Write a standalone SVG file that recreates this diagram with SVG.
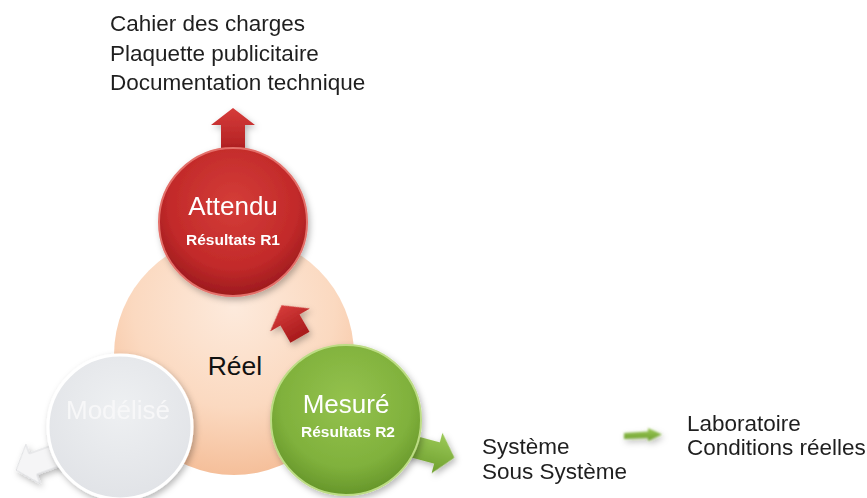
<svg xmlns="http://www.w3.org/2000/svg" width="867" height="498" viewBox="0 0 867 498">
  <style>
    .lbl { font-family: "Liberation Sans", Arial, sans-serif; font-size: 22.5px; fill: #1f1f1f; }
    .title { font-family: "Liberation Sans", Arial, sans-serif; font-size: 26px; fill: #ffffff; text-anchor: middle; }
    .sub { font-family: "Liberation Sans", Arial, sans-serif; font-size: 15.5px; font-weight: bold; fill: #ffffff; text-anchor: middle; }
    .center { font-family: "Liberation Sans", Arial, sans-serif; font-size: 26.5px; fill: #111111; text-anchor: middle; }
  </style>
  <defs>
    <radialGradient id="gPeach" cx="50%" cy="30%" r="70%">
      <stop offset="0" stop-color="#fdeadc"/>
      <stop offset="0.6" stop-color="#fbd9c0"/>
      <stop offset="1" stop-color="#f5bf9a"/>
    </radialGradient>
    <radialGradient id="gRed" cx="50%" cy="38%" r="62%">
      <stop offset="0" stop-color="#d43d38"/>
      <stop offset="0.7" stop-color="#c22a2a"/>
      <stop offset="1" stop-color="#9c1a1d"/>
    </radialGradient>
    <radialGradient id="gGreen" cx="50%" cy="38%" r="62%">
      <stop offset="0" stop-color="#94c24e"/>
      <stop offset="0.7" stop-color="#80b13c"/>
      <stop offset="1" stop-color="#66962a"/>
    </radialGradient>
    <radialGradient id="gGray" cx="50%" cy="38%" r="62%">
      <stop offset="0" stop-color="#eef0f2"/>
      <stop offset="1" stop-color="#e1e3e7"/>
    </radialGradient>
    <linearGradient id="gRedArrow" x1="0" y1="0" x2="0" y2="1">
      <stop offset="0" stop-color="#d63c3a"/>
      <stop offset="1" stop-color="#a81a1c"/>
    </linearGradient>
    <linearGradient id="gGreenArrow" x1="0" y1="0" x2="0" y2="1">
      <stop offset="0" stop-color="#9cca58"/>
      <stop offset="1" stop-color="#6e9f2e"/>
    </linearGradient>
    <filter id="shadow" x="-20%" y="-20%" width="140%" height="140%">
      <feDropShadow dx="2" dy="3" stdDeviation="3" flood-color="#000000" flood-opacity="0.28"/>
    </filter>
    <filter id="soft" x="-20%" y="-40%" width="140%" height="180%">
      <feGaussianBlur stdDeviation="0.9"/>
    </filter>
    <!-- block arrow pointing right, base of the head at the origin -->
    <path id="arrowRight" d="M18,0 L0,-21 L0,-11 L-34,-11 L-34,11 L0,11 L0,21 Z"/>
  </defs>

  <!-- central circle -->
  <g id="node-reel">
    <circle cx="234" cy="355" r="120" fill="url(#gPeach)"/>
    <text class="center" x="235" y="375">Réel</text>
  </g>

  <!-- connectors -->
  <g id="connectors" filter="url(#shadow)">
    <path d="M233,108 L255,125 L245,125 L245,160 L221,160 L221,125 L211,125 Z" fill="url(#gRedArrow)"/>
    <path transform="translate(290,320) rotate(-30)" d="M0,-17 L23,0 L11,0 L11,20 L-11,20 L-11,0 L-23,0 Z" fill="url(#gRedArrow)"/>
    <use href="#arrowRight" transform="translate(437,453) rotate(15)" fill="url(#gGreenArrow)"/>
    <use href="#arrowRight" transform="translate(33,464) rotate(160)" fill="#f5f5f6" stroke="#dcdde0" stroke-width="1"/>
    <path d="M624,433 L648,431.5 L648,428 L662,434.5 L648,441 L648,438 L624,439 Z" fill="url(#gGreenArrow)" filter="url(#soft)"/>
  </g>

  <g id="node-attendu" filter="url(#shadow)">
    <circle cx="233" cy="222" r="74" fill="url(#gRed)" stroke="#e4706a" stroke-width="2"/>
    <text class="title" x="233" y="215">Attendu</text>
    <text class="sub" x="233" y="245">Résultats R1</text>
  </g>

  <g id="node-modelise" filter="url(#shadow)">
    <circle cx="120" cy="427" r="72" fill="url(#gGray)" stroke="#ffffff" stroke-width="3"/>
    <text class="title" x="118" y="419" fill="#f7f7f8" style="fill:#f7f7f8">Modélisé</text>
  </g>

  <g id="node-mesure" filter="url(#shadow)">
    <circle cx="346" cy="420" r="75" fill="url(#gGreen)" stroke="#bcdc84" stroke-width="2"/>
    <text class="title" x="346" y="413">Mesuré</text>
    <text class="sub" x="348" y="437">Résultats R2</text>
  </g>

  <!-- side labels -->
  <g id="label-documents">
    <text class="lbl" x="110" y="31">Cahier des charges</text>
    <text class="lbl" x="110" y="61">Plaquette publicitaire</text>
    <text class="lbl" x="110" y="90">Documentation technique</text>
  </g>
  <g id="label-systeme">
    <text class="lbl" x="482" y="454">Système</text>
    <text class="lbl" x="482" y="479">Sous Système</text>
  </g>
  <g id="label-conditions">
    <text class="lbl" x="687" y="431">Laboratoire</text>
    <text class="lbl" x="687" y="455">Conditions réelles</text>
  </g>
</svg>
